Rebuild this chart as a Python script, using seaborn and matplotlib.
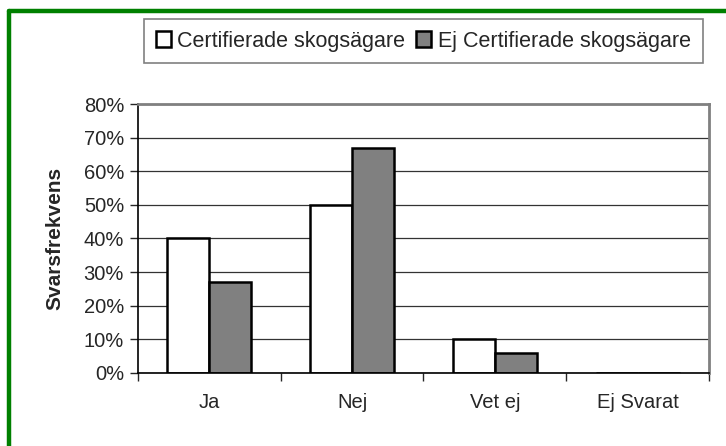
import pandas as pd
import seaborn as sns
import matplotlib
matplotlib.use("Agg")
from matplotlib import pyplot as plt
from matplotlib.patches import Patch
from matplotlib.lines import Line2D
from matplotlib.ticker import PercentFormatter, FixedLocator

categories = ["Ja", "Nej", "Vet ej", "Ej Svarat"]
groups = ["Certifierade skogsägare", "Ej Certifierade skogsägare"]
certifierade = [40, 50, 10, 0]
ej_certifierade = [27, 67, 6, 0]
colors = ["#ffffff", "#808080"]

df = pd.DataFrame({
    "svar": categories * 2,
    "grupp": [groups[0]] * 4 + [groups[1]] * 4,
    "andel": certifierade + ej_certifierade,
})

sns.set_style("white")
plt.rcParams["font.family"] = ["Liberation Sans", "DejaVu Sans"]

fig = plt.figure(figsize=(7.26, 4.46), dpi=100)
ax = fig.add_axes([0.190, 0.1637, 0.7866, 0.6031])

sns.barplot(data=df, x="svar", y="andel", hue="grupp", palette=colors,
            edgecolor="black", linewidth=1.8, width=0.59, saturation=1,
            ax=ax, legend=False)

ax.set_ylim(0, 80)
ax.set_xlim(-0.5, 3.5)
ax.set_yticks(range(0, 81, 10))
ax.yaxis.set_major_formatter(PercentFormatter(decimals=0))
ax.yaxis.grid(True, color="#333333", linewidth=0.9)
ax.set_axisbelow(True)
ax.tick_params(axis="y", left=True, length=6, width=1, labelsize=14.5, pad=4)
ax.tick_params(axis="x", bottom=False, labelsize=14.5, pad=11)
ax.xaxis.set_minor_locator(FixedLocator([-0.5, 0.5, 1.5, 2.5, 3.5]))
ax.tick_params(axis="x", which="minor", bottom=True, length=6, width=1)
ax.set_xlabel("")
ax.set_ylabel("Svarsfrekvens", fontsize=15, fontweight="bold", labelpad=14)

for side in ["left", "bottom"]:
    ax.spines[side].set_color("black")
    ax.spines[side].set_linewidth(1.2)
for side in ["top", "right"]:
    ax.spines[side].set_visible(True)
    ax.spines[side].set_color("#808080")
    ax.spines[side].set_linewidth(2)

handles = [Patch(facecolor=c, edgecolor="black", linewidth=1.8) for c in colors]
leg = fig.legend(handles, groups, loc="center", bbox_to_anchor=(0.583, 0.908),
                 ncol=2, fontsize=15.5, frameon=True, fancybox=False,
                 handlelength=0.7, handleheight=0.7, handletextpad=0.3,
                 columnspacing=0.5, borderpad=0.55)
leg.get_frame().set_edgecolor("#606060")
leg.get_frame().set_linewidth(1.2)

# green frame on the top and left edge
green = "#008000"
fig.add_artist(Line2D([8.5 / 726, 1], [1 - 11 / 446, 1 - 11 / 446],
                      color=green, linewidth=3.2, transform=fig.transFigure))
fig.add_artist(Line2D([8.5 / 726, 8.5 / 726], [0, 1 - 11 / 446],
                      color=green, linewidth=3.2, transform=fig.transFigure))

fig.savefig("out.png", dpi=100)
